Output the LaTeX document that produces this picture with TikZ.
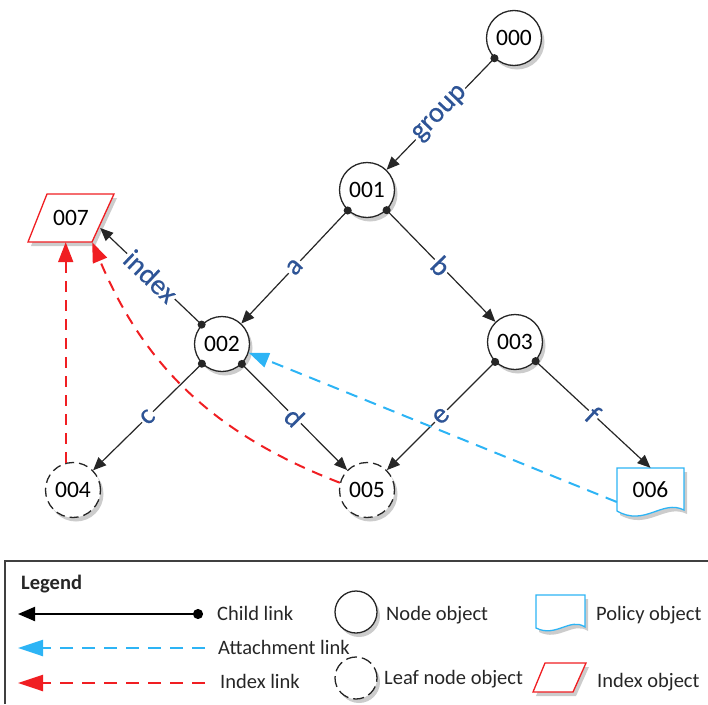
\documentclass[tikz,border=0pt]{standalone}
\usepackage{fontspec}
\setmainfont{Carlito}
\newfontfamily\lblfont[FakeBold=0.5]{Carlito}
\usetikzlibrary{arrows.meta,shapes.geometric,shadows,calc}
\definecolor{lblue}{RGB}{46,84,150}
\definecolor{attblue}{RGB}{45,180,245}
\definecolor{idxred}{RGB}{240,30,34}
\begin{document}
\begin{tikzpicture}[x=1pt,y=1pt,
  shd/.style={drop shadow={shadow xshift=3pt,shadow yshift=-4pt,opacity=0.2,fill=black}},
  obj/.style={circle,draw=black!85,line width=1.3pt,fill=white,minimum size=55pt,inner sep=0pt,
    font=\fontsize{23.5}{28}\selectfont,shd},
  leaf/.style={obj,dash pattern=on 9pt off 5pt},
  idxshape/.style={draw=idxred,line width=1.3pt,fill=white,shd},
  polshape/.style={draw=attblue,line width=1.3pt,fill=white,shd},
  txtnode/.style={inner sep=0pt,font=\fontsize{23.5}{28}\selectfont},
  child/.style={draw=black!85,line width=1.2pt,{Circle[length=8pt]}-{Triangle[length=13pt,width=11pt]},shorten <=-4pt},
  lbl/.style={sloped,fill=white,inner sep=1.5pt,text=lblue,font=\lblfont\fontsize{28.5}{32}\selectfont},
  attl/.style={draw=attblue,line width=2pt,dash pattern=on 12pt off 8pt,-{Triangle[length=20pt,width=15pt]}},
  idxl/.style={draw=idxred,line width=2pt,dash pattern=on 11pt off 8pt,-{Triangle[length=20pt,width=15pt]}},
  lgtext/.style={anchor=base west,font=\fontsize{20.5}{24}\selectfont,text=black!85,inner sep=0pt},
]
\useasboundingbox (0,0) rectangle (708,-704);

% ---- objects ----
\node[obj] (n000) at (514,-38) {000};
\node[obj] (n001) at (367,-190) {001};
\node[obj] (n002) at (222,-344) {002};
\node[obj] (n003) at (515,-342) {003};
\node[leaf] (n004) at (73,-490) {004};
\node[leaf] (n005) at (367,-490) {005};
\path[polshape] (617,-468) -- (684,-468) -- (684,-510) .. controls (662,-499) and (645,-527) .. (617,-511) -- cycle;
\node[txtnode,minimum width=67pt,minimum height=44pt] (n006) at (650.5,-490) {006};
\path[idxshape] (47,-194) -- (114,-194) -- (92,-242) -- (28,-242) -- cycle;
\node[txtnode,minimum width=86pt,minimum height=48pt] (n007) at (71,-218) {007};

% ---- child links ----
\draw[child] (n000) -- node[lbl] (lgroup) {group} (n001);
\draw[child] (n001) -- node[lbl] (la) {a} (n002);
\draw[child] (n001) -- node[lbl] (lb) {b} (n003);
\draw[child] (n002) -- node[lbl] (lc) {c} (n004);
\draw[child] (n002) -- node[lbl] (ld) {d} (n005);
\draw[child] (n003) -- node[lbl] (le) {e} (n005);
\draw[child] (n003) -- node[lbl] (lf) {f} (n006.north);
\draw[child] (n002) -- node[lbl] (lindex) {index} ([xshift=-14pt,yshift=-10pt]n007.east);

% ---- index links ----
\draw[idxl] (n004.105) -- (n004.105 |- n007.south);
\draw[idxl] (n005.165) to[bend left=23] ([xshift=-22pt]n007.south east);

% ---- attachment link ----
\draw[attl] ([yshift=-12pt]n006.west) -- (n002.-18);

% ---- legend ----
\draw[line width=1.4pt,draw=black!75] (5,-704) -- (5,-561) -- (708,-561);
\node[lgtext,font=\fontsize{20.5}{24}\selectfont\bfseries] (lgTitle) at (21,-589) {Legend};

\coordinate (lgC1) at (203,-614);
\coordinate (lgC0) at (18,-614);
\draw[draw=black,line width=2pt,{Circle[length=10pt]}-{Triangle[length=17pt,width=14pt]}] (lgC1) -- (lgC0);
\node[lgtext] (lgCt) at (217,-620) {Child link};

\coordinate (lgA1) at (205,-648);
\coordinate (lgA0) at (18,-648);
\draw[attl,line width=2.3pt,dash pattern=on 13pt off 9pt,-{Triangle[length=25pt,width=16pt]}] (lgA1) -- (lgA0);
\node[lgtext] (lgAt) at (218,-654) {Attachment link};

\coordinate (lgI1) at (205,-683);
\coordinate (lgI0) at (18,-683);
\draw[idxl,line width=2.3pt,dash pattern=on 13pt off 9pt,-{Triangle[length=25pt,width=16pt]}] (lgI1) -- (lgI0);
\node[lgtext] (lgIt) at (220,-688) {Index link};

\node[obj,minimum size=42pt] (lgNode) at (356,-612) {};
\node[lgtext] (lgNt) at (386,-620) {Node object};
\node[leaf,minimum size=42pt,dash pattern=on 11pt off 5pt] (lgLeaf) at (356,-678) {};
\node[lgtext] (lgLt) at (384,-684) {Leaf node object};

\path[polshape] (536,-595) -- (585,-595) -- (585,-627) .. controls (570,-617) and (556,-638) .. (536,-628) -- cycle;
\coordinate (lgPol) at (560.5,-611);
\node[lgtext] (lgPt) at (596,-620) {Policy object};

\path[idxshape] (545,-663) -- (586,-663) -- (573,-692) -- (533,-692) -- cycle;
\coordinate (lgIdx) at (559.5,-677.5);
\node[lgtext] (lgXt) at (597,-687) {Index object};
\end{tikzpicture}
\end{document}
